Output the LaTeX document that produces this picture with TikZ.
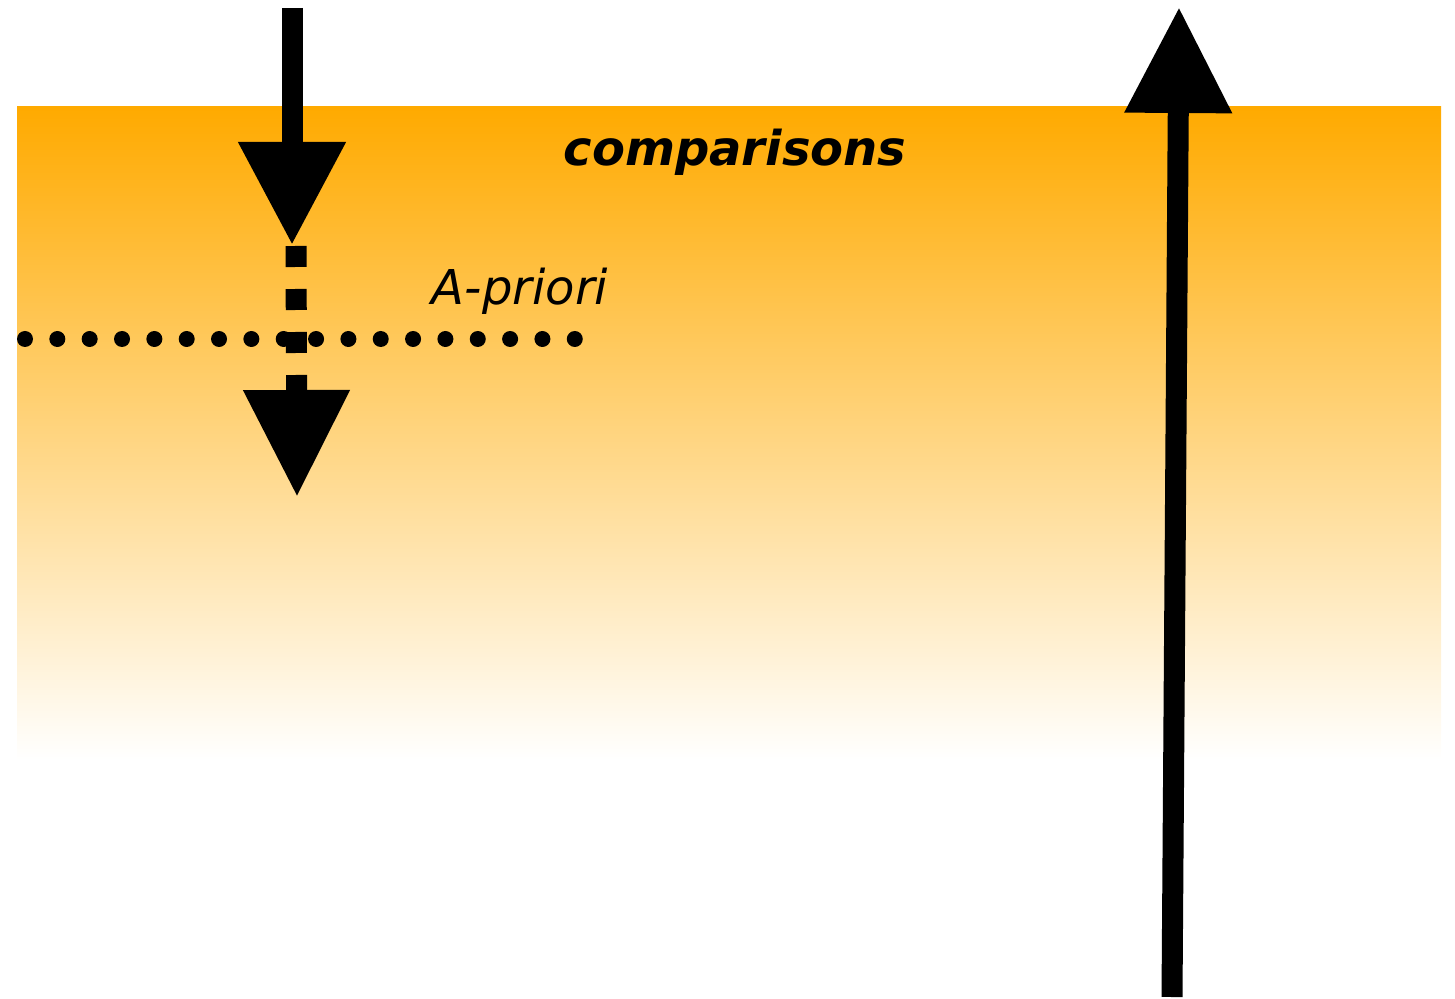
\documentclass[tikz,border=0pt]{standalone}
\usepackage{fontspec}
\setmainfont{DejaVu Sans}
\usetikzlibrary{arrows.meta}
\definecolor{bandorange}{RGB}{255,170,0}
\tikzset{
  bigarrow/.style={line width=10.5pt, -{Triangle[length=#1, width=51pt]}},
  bigarrow/.default=52pt,
  dotrow/.style={line width=8pt, line cap=round, dash pattern=on 0pt off 16.17pt},
  dashshaft/.style={line width=10.5pt, dash pattern=on 10.5pt off 11pt,
    -{Triangle[length=53.5pt, width=50.5pt]}},
  labeltext/.style={inner sep=0pt, anchor=base, font=\fontsize{24}{28}\selectfont}
}
\begin{document}
\begin{tikzpicture}[x=0.5pt, y=-0.5pt]
  \useasboundingbox (0,0) rectangle (1455,999);
  % fading band
  \shade[top color=bandorange, bottom color=white] (17,107) rectangle (1441,760);

  % endpoints of the connectors
  \coordinate (inTop) at (292,8);
  \coordinate (inTip) at (292,245);
  \coordinate (dashStart) at (296,246);
  \coordinate (dashTip) at (297,497);
  \coordinate (outFoot) at (1172,997);
  \coordinate (outTip) at (1179,7);
  \coordinate (dotsL) at (25,339);
  \coordinate (dotsR) at (575,339);

  % labels
  \node[labeltext, font=\fontsize{24}{28}\selectfont\bfseries\itshape] (cmp) at (735,166) {comparisons};
  \node[labeltext] (apr) at (520,305) {\itshape A-priori};

  % dotted threshold
  \draw[dotrow] (dotsL) -- (dotsR);

  % arrows
  \draw[bigarrow=51.5pt] (inTop) -- (inTip);
  \draw[dashshaft] (dashStart) -- (dashTip);
  \draw[bigarrow=53pt] (outFoot) -- (outTip);
\end{tikzpicture}
\end{document}
